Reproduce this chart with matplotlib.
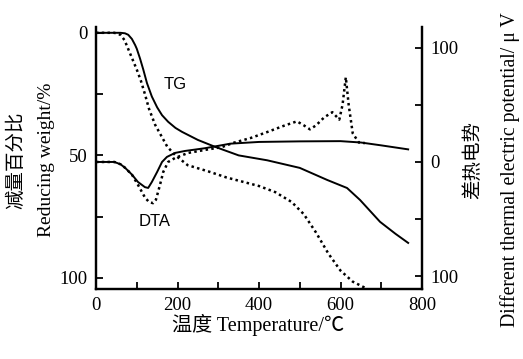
import matplotlib
matplotlib.use("Agg")
import matplotlib.pyplot as plt
from matplotlib.ticker import FixedLocator, FixedFormatter

# TG curves (left axis, reducing weight %)
tg1_t = [0, 60, 71, 79, 88, 96, 100, 108, 116, 125, 137, 150, 162, 177, 195, 211, 250, 292, 350, 420, 500, 567, 616, 648, 697, 735, 766]
tg1_w = [0, 0, 0.2, 0.8, 2.5, 5, 6.5, 10.5, 15, 20.5, 26, 30.4, 33.6, 36.3, 38.8, 40.4, 43.7, 46.5, 50, 52, 55.1, 60, 63.3, 68.2, 77.1, 82, 85.7]
tg2_t = [0, 45, 60, 70, 80, 90, 100, 110, 120, 130, 145, 160, 175, 195, 225, 275, 320, 400, 440, 480, 510, 540, 570, 600, 630, 660]
tg2_w = [0, 0, 0.8, 3, 7, 11, 15, 19.5, 25, 31, 37.5, 42, 46.5, 50, 54, 56.5, 59, 62.5, 65, 69, 74, 81.5, 90, 97, 101.5, 104]

# DTA curves (right axis, uV)
dta1_t = [0, 45, 60, 71, 88, 103, 120, 128, 137, 150, 162, 174, 194, 218, 267, 330, 400, 500, 600, 650, 700, 766]
dta1_v = [0, 0, -2, -5, -11, -17.5, -22, -22.7, -17.5, -8.7, 0, 4.4, 7.9, 9.6, 12, 16, 17.5, 18, 18.2, 17, 14.5, 11]
dta2_t = [0, 45, 60, 71, 88, 103, 120, 130, 140, 147, 157, 165, 177, 194, 226, 267, 309, 336, 380, 419, 460, 493,
          510, 525, 540, 560, 580, 597, 605, 613, 620, 630, 645, 660]
dta2_v = [0, 0, -2, -5, -11, -20, -31, -35, -36, -33, -20, -8.7, 0, 3.5, 7.9, 10.5, 13, 16.6, 21, 26, 31.5, 35.5,
          32, 28.5, 32, 39, 43.5, 37, 50, 74, 50, 25, 17, 16.5]

xticks = [0, 200, 400, 600, 800]
left_ticks = [0, 50, 100]
right_ticks = [100, 0, -100]
right_labels = ["100", "0", "100"]

serif = ["Liberation Serif", "Noto Sans CJK SC"]
plt.rcParams["font.family"] = serif

fig = plt.figure(figsize=(5.23, 3.59), dpi=100)
ax = fig.add_axes([0.1836, 0.195, 0.6233, 0.730])
ax2 = ax.twinx()

dots = (0, (1, 1.3))
ax.plot(tg1_t, tg1_w, color="black", lw=1.4)
ax.plot(tg2_t, tg2_w, color="black", lw=1.8, linestyle=dots)
ax2.plot(dta1_t, dta1_v, color="black", lw=1.4)
ax2.plot(dta2_t, dta2_v, color="black", lw=1.8, linestyle=dots)

ax.set_xlim(0, 800)
ax.set_ylim(104.5, -2.4)
ax2.set_ylim(-111, 118)

ax.xaxis.set_major_locator(FixedLocator(xticks))
ax.xaxis.set_minor_locator(FixedLocator([100, 300, 500, 700]))
ax.yaxis.set_major_locator(FixedLocator(left_ticks))
ax.yaxis.set_minor_locator(FixedLocator([25, 75]))
ax2.yaxis.set_major_locator(FixedLocator(right_ticks))
ax2.yaxis.set_major_formatter(FixedFormatter(right_labels))
ax2.yaxis.set_minor_locator(FixedLocator([50, -50]))

for a in (ax, ax2):
    a.spines["top"].set_visible(False)
    for s in a.spines.values():
        s.set_linewidth(1.6)
    a.tick_params(which="both", direction="in", length=5, width=1.3, labelsize=13.5, pad=6)

ax.text(194, 21, "TG", fontsize=12, family="Liberation Sans", ha="center", va="center")
ax.text(145, 77, "DTA", fontsize=12, family="Liberation Sans", ha="center", va="center")

W, H = 523, 359
fig.text(16 / W, 1 - 160 / H, "减量百分比", rotation=90, fontsize=14, ha="center", va="center")
fig.text(47 / W, 1 - 160 / H, "Reducing weight/%", rotation=90, fontsize=14, ha="center", va="center")
fig.text(473 / W, 1 - 160 / H, "差热电势", rotation=90, fontsize=14, ha="center", va="center")
fig.text(510 / W, 1 - 170 / H, "Different thermal electric potential/ μ V", rotation=90, fontsize=14.2,
         ha="center", va="center")
fig.text(258 / W, 1 - 325 / H, "温度 Temperature/℃", fontsize=14.5, ha="center", va="center")

fig.savefig("out.png", dpi=100)
